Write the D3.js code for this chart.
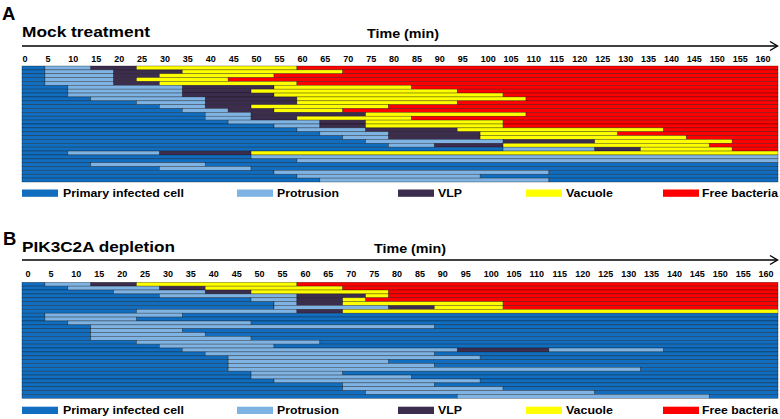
<!DOCTYPE html>
<html><head><meta charset="utf-8">
<script src="https://cdn.jsdelivr.net/npm/d3@7"></script>
<style>
html,body{margin:0;padding:0;background:#fff;}
text{font-family:"Liberation Sans",Arial,sans-serif;font-weight:bold;fill:#000;}
</style></head>
<body><svg id="c" width="780" height="419"></svg>
<script>
// ---- data ----
const tickLabels = d3.range(0, 161, 5);
const stateKeys = ["P", "L", "V", "Y", "R"];
const stateNames = ["Primary infected cell", "Protrusion", "VLP", "Vacuole", "Free bacteria"];
const stateColors = ["#106dbf", "#7eb3e3", "#3c2c4e", "#ffff00", "#ff0000"];
const endTime = 165;

// each row: [start minute, state] pairs
const mockRows = [
  [[0,"P"],[5,"L"],[15,"V"],[25,"Y"],[60,"R"]],
  [[0,"P"],[5,"L"],[20,"V"],[35,"Y"],[70,"R"]],
  [[0,"P"],[5,"L"],[20,"V"],[30,"Y"],[55,"R"]],
  [[0,"P"],[5,"L"],[20,"V"],[25,"Y"],[45,"R"]],
  [[0,"P"],[5,"L"],[20,"V"],[30,"Y"],[60,"R"]],
  [[0,"P"],[10,"L"],[35,"V"],[55,"Y"],[85,"R"]],
  [[0,"P"],[10,"L"],[35,"V"],[50,"Y"],[95,"R"]],
  [[0,"P"],[10,"L"],[35,"V"],[55,"Y"],[105,"R"]],
  [[0,"P"],[15,"L"],[40,"V"],[60,"Y"],[110,"R"]],
  [[0,"P"],[25,"L"],[40,"V"],[60,"Y"],[95,"R"]],
  [[0,"P"],[30,"L"],[40,"V"],[50,"Y"],[80,"R"]],
  [[0,"P"],[35,"L"],[45,"V"],[55,"Y"],[70,"R"]],
  [[0,"P"],[40,"L"],[50,"V"],[75,"Y"],[110,"R"]],
  [[0,"P"],[40,"L"],[50,"V"],[60,"Y"],[85,"R"]],
  [[0,"P"],[45,"L"],[65,"V"],[75,"Y"],[105,"R"]],
  [[0,"P"],[55,"L"],[65,"V"],[75,"Y"],[105,"R"]],
  [[0,"P"],[60,"L"],[75,"V"],[95,"Y"],[140,"R"]],
  [[0,"P"],[65,"L"],[80,"V"],[100,"Y"],[130,"R"]],
  [[0,"P"],[70,"L"],[80,"V"],[100,"Y"],[145,"R"]],
  [[0,"P"],[75,"L"],[105,"V"],[125,"Y"],[155,"R"]],
  [[0,"P"],[80,"L"],[90,"V"],[105,"Y"],[150,"R"]],
  [[0,"P"],[105,"L"],[125,"V"],[135,"Y"],[155,"R"]],
  [[0,"P"],[10,"L"],[30,"V"],[50,"Y"]],
  [[0,"P"],[50,"L"]],
  [[0,"P"],[60,"L"]],
  [[0,"P"],[15,"L"],[40,"P"]],
  [[0,"P"],[30,"L"],[50,"P"]],
  [[0,"P"],[55,"L"],[115,"P"]],
  [[0,"P"],[60,"L"],[100,"P"]],
  [[0,"P"],[65,"L"],[115,"P"]]
];

const pik3c2aRows = [
  [[0,"P"],[5,"L"],[15,"V"],[25,"Y"],[60,"R"]],
  [[0,"P"],[10,"L"],[30,"V"],[40,"Y"],[70,"R"]],
  [[0,"P"],[20,"L"],[40,"V"],[50,"Y"],[80,"R"]],
  [[0,"P"],[30,"L"],[60,"V"],[75,"Y"],[80,"R"]],
  [[0,"P"],[50,"L"],[60,"V"],[70,"Y"],[75,"R"]],
  [[0,"P"],[55,"L"],[60,"V"],[70,"Y"],[105,"R"]],
  [[0,"P"],[55,"L"],[80,"V"],[90,"Y"],[105,"R"]],
  [[0,"P"],[25,"L"],[60,"V"],[70,"Y"]],
  [[0,"P"],[5,"L"],[35,"P"]],
  [[0,"P"],[5,"L"],[25,"P"]],
  [[0,"P"],[10,"L"],[50,"P"]],
  [[0,"P"],[15,"L"],[90,"P"]],
  [[0,"P"],[15,"L"],[35,"P"]],
  [[0,"P"],[15,"L"],[40,"P"]],
  [[0,"P"],[15,"L"],[50,"P"]],
  [[0,"P"],[25,"L"],[65,"P"]],
  [[0,"P"],[30,"L"],[55,"P"]],
  [[0,"P"],[35,"L"],[95,"V"],[115,"L"],[140,"P"]],
  [[0,"P"],[40,"L"],[90,"P"]],
  [[0,"P"],[45,"L"],[100,"P"]],
  [[0,"P"],[45,"L"],[80,"P"]],
  [[0,"P"],[45,"L"],[90,"P"]],
  [[0,"P"],[45,"L"],[135,"P"]],
  [[0,"P"],[50,"L"],[70,"P"]],
  [[0,"P"],[50,"L"],[85,"P"]],
  [[0,"P"],[55,"L"],[100,"P"]],
  [[0,"P"],[70,"L"],[90,"P"]],
  [[0,"P"],[70,"L"],[105,"P"]],
  [[0,"P"],[75,"L"],[125,"P"]],
  [[0,"P"],[95,"L"],[150,"P"]]
];

const panels = [
  {letter:"A", title:"Mock treatment", rows: mockRows, letterX:2, letterY:20, titleY:37, titleW:128, timeX:367, timeY:37.5, lineY:46, tickY:61.5, tickDX:0, barTop:66, barBot:182, legY:189.5, legTextY:197.3},
  {letter:"B", title:"PIK3C2A depletion", rows: pik3c2aRows, letterX:3, letterY:245, titleY:252, titleW:153, timeX:374, timeY:252.5, lineY:260, tickY:276.5, tickDX:3, barTop:282.3, barBot:398.3, legY:406.7, legTextY:413.6}
];

const legendSwatchX = [22, 237, 398, 526, 663];
const legendTextX = [63, 277, 438, 566, 702];
const legendTextW = [121, 62, 24, 47, 76];

// ---- drawing ----
const svg = d3.select("#c");
const x = d3.scaleLinear().domain([0, endTime]).range([22, 778]);
const color = d3.scaleOrdinal().domain(stateKeys).range(stateColors);

panels.forEach(p => {
  const g = svg.append("g");
  g.append("text").attr("x", p.letterX).attr("y", p.letterY).attr("font-size", 18.5).text(p.letter);
  g.append("text").attr("x", 22).attr("y", p.titleY).attr("font-size", 15.5)
    .attr("textLength", p.titleW).attr("lengthAdjust", "spacingAndGlyphs").text(p.title);
  g.append("text").attr("x", p.timeX).attr("y", p.timeY).attr("font-size", 13.5)
    .attr("textLength", 72).attr("lengthAdjust", "spacingAndGlyphs").text("Time (min)");

  // arrow line
  g.append("line").attr("x1", x(0)).attr("x2", x(endTime) - 1).attr("y1", p.lineY).attr("y2", p.lineY)
    .attr("stroke", "#000").attr("stroke-width", 1.4);
  g.append("path")
    .attr("d", `M${x(endTime)-8},${p.lineY-4.5} L${x(endTime)-0.5},${p.lineY} L${x(endTime)-8},${p.lineY+4.5}`)
    .attr("fill", "none").attr("stroke", "#000").attr("stroke-width", 1.4);

  // tick labels via axis
  const ax = d3.axisBottom(x).tickValues(tickLabels).tickSize(0).tickPadding(0).tickFormat(d3.format("d"));
  const axg = g.append("g").attr("transform", `translate(${p.tickDX},${p.tickY})`).call(ax);
  axg.select(".domain").remove();
  axg.selectAll("text").attr("dy", 0).attr("y", 0).attr("text-anchor", "start")
    .attr("font-size", 9).attr("font-family", '"Liberation Sans",Arial,sans-serif').attr("font-weight", "bold").attr("fill", "#000");

  // bars
  const y = d3.scaleBand().domain(d3.range(p.rows.length)).range([p.barTop, p.barBot]).padding(0);
  const segs = [];
  p.rows.forEach((row, i) => {
    row.forEach((s, j) => {
      const end = j + 1 < row.length ? row[j + 1][0] : endTime;
      segs.push({row: i, start: s[0], end: end, state: s[1]});
    });
  });
  g.append("g").selectAll("rect").data(segs).join("rect")
    .attr("x", d => x(d.start)).attr("width", d => x(d.end) - x(d.start))
    .attr("y", d => y(d.row)).attr("height", y.bandwidth())
    .attr("fill", d => color(d.state))
    .attr("stroke", "rgba(0,0,0,0.5)").attr("stroke-width", 0.6);

  // legend
  const lg = g.append("g");
  stateKeys.forEach((k, i) => {
    lg.append("rect").attr("x", legendSwatchX[i]).attr("y", p.legY).attr("width", 36).attr("height", 7.3)
      .attr("fill", color(k));
    lg.append("text").attr("x", legendTextX[i]).attr("y", p.legTextY).attr("font-size", 11.2)
      .attr("textLength", legendTextW[i]).attr("lengthAdjust", "spacingAndGlyphs").text(stateNames[i]);
  });
});
</script></body></html>
